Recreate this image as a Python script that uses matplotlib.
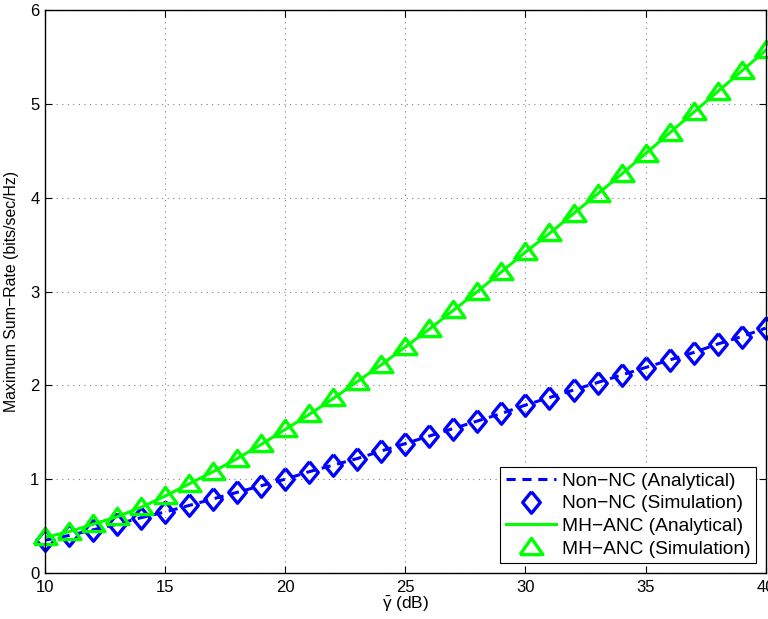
import numpy as np
import matplotlib.pyplot as plt

plt.rcParams['font.family'] = ['Liberation Sans', 'DejaVu Sans']
plt.rcParams['mathtext.fontset'] = 'custom'
plt.rcParams['mathtext.rm'] = 'Liberation Sans'
plt.rcParams['mathtext.it'] = 'Liberation Sans'

snr_db = np.arange(10, 41)

# sum-rate without network coding
non_nc = [0.35, 0.40, 0.46, 0.52, 0.59, 0.65, 0.72, 0.79, 0.86, 0.93,
          1.00, 1.08, 1.15, 1.22, 1.30, 1.38, 1.46, 1.54, 1.62, 1.70,
          1.79, 1.87, 1.95, 2.03, 2.11, 2.19, 2.27, 2.35, 2.44, 2.52, 2.61]

# sum-rate with MH-ANC
mh_anc = [0.38, 0.44, 0.52, 0.60, 0.70, 0.82, 0.95, 1.08, 1.22, 1.37,
          1.53, 1.69, 1.86, 2.04, 2.22, 2.41, 2.60, 2.80, 3.00, 3.21,
          3.42, 3.62, 3.83, 4.04, 4.25, 4.47, 4.69, 4.91, 5.13, 5.35, 5.57]

# wide triangle like matlab's '^'
tri = [(-1, -0.62), (1, -0.62), (0, 0.8), (-1, -0.62)]
dia = [(0, 1), (0.82, 0), (0, -1), (-0.82, 0), (0, 1)]

fig = plt.figure(figsize=(7.68, 6.19), dpi=100)
ax = fig.add_axes([0.0586, 0.0743, 0.9384, 0.9095])

blue = (0, 0, 1)
green = (0, 1, 0)

ax.plot(snr_db, non_nc, '--', color=blue, lw=2.2, dashes=(3, 2.2),
        label='Non\u2212NC (Analytical)')
ax.plot(snr_db, non_nc, ls='none', marker=dia, color=blue, mfc='none',
        mew=2.4, ms=15.5, clip_on=False, label='Non\u2212NC (Simulation)')
ax.plot(snr_db, mh_anc, '-', color=green, lw=2.2,
        label='MH\u2212ANC (Analytical)')
ax.plot(snr_db, mh_anc, ls='none', marker=tri, color=green, mfc='none',
        mew=2.4, ms=16.5, clip_on=False, label='MH\u2212ANC (Simulation)')

ax.set_xlim(10, 40)
ax.set_ylim(0, 6)
ax.set_xticks(np.arange(10, 41, 5))
ax.set_yticks(np.arange(0, 7, 1))
ax.grid(True, linestyle=(0, (1, 4)), color='#808080', lw=0.8)
ax.tick_params(direction='in', top=True, right=True, labelsize=12,
               length=5, width=0.8)
ax.tick_params(axis='x', pad=5)
ax.tick_params(axis='y', pad=4)
for s in ax.spines.values():
    s.set_linewidth(1.0)

ax.set_xlabel(r'$\bar{\gamma}$ (dB)', fontsize=12.5, labelpad=0)
ax.set_ylabel('Maximum Sum\u2212Rate (bits/sec/Hz)', fontsize=11.4,
              labelpad=8)

leg = ax.legend(loc='lower right', fontsize=13.8, fancybox=False,
                edgecolor='black', framealpha=1, borderaxespad=0.5,
                handlelength=2.6, labelspacing=0.27, borderpad=0.3,
                handletextpad=0.3)
leg.get_frame().set_linewidth(0.8)

fig.savefig('out.png', dpi=100)
